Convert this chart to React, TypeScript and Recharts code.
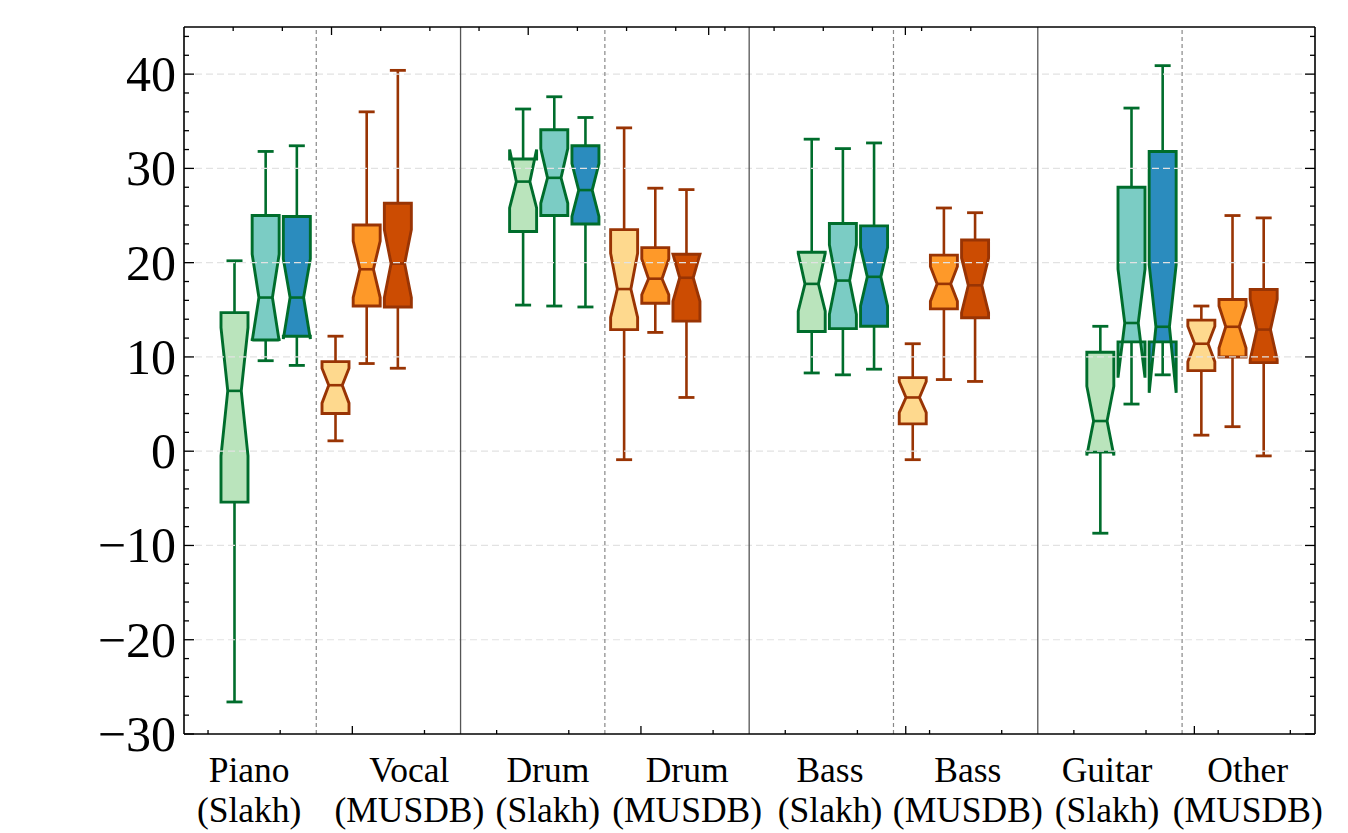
import React from 'react';
import { ComposedChart, Bar, XAxis, YAxis, ReferenceLine } from 'recharts';

// ---- categories ----
const instruments = ['Piano', 'Vocal', 'Drum', 'Drum', 'Bass', 'Bass', 'Guitar', 'Other'];
const datasets = ['(Slakh)', '(MUSDB)', '(Slakh)', '(MUSDB)', '(Slakh)', '(MUSDB)', '(Slakh)', '(MUSDB)'];
// x positions (axis units) of each group centre and of its two-line label
const groupCenters = [1.8, 3.2, 5.8, 7.2, 9.8, 11.2, 13.8, 15.2];
const labelCenters = [1.57, 3.79, 5.71, 7.64, 9.62, 11.53, 13.46, 15.41];

// ---- box statistics: [group][model] ----
const whiskerLow = [[-26.6, 9.6, 9.1], [1.1, 9.3, 8.8], [15.5, 15.4, 15.3], [-0.9, 12.6, 5.7], [8.3, 8.1, 8.7], [-0.9, 7.6, 7.4], [-8.7, 5.0, 8.1], [1.7, 2.6, -0.5]];
const q1 = [[-5.4, 11.8, 12.2], [4.0, 15.4, 15.3], [23.3, 25.0, 24.1], [12.9, 15.7, 13.8], [12.7, 13.0, 13.25], [2.9, 15.1, 14.15], [-0.1, 11.6, 11.6], [8.55, 10.0, 9.4]];
const notchLow = [[-0.5, 11.7, 11.9], [5.1, 16.3, 16.3], [25.8, 26.3, 24.9], [14.2, 16.6, 15.9], [14.85, 14.5, 15.4], [4.1, 15.9, 14.7], [-0.45, 7.8, 6.2], [9.5, 10.95, 9.7]];
const median = [[6.4, 16.3, 16.3], [7.0, 19.3, 19.9], [28.6, 29.0, 27.7], [17.2, 18.3, 18.4], [17.75, 18.1, 18.5], [5.7, 17.75, 17.6], [3.2, 13.6, 13.2], [11.4, 13.2, 12.9]];
const notchHigh = [[13.1, 20.9, 20.4], [8.8, 22.3, 23.5], [32.0, 32.1, 30.5], [21.0, 20.4, 20.9], [21.0, 21.9, 21.6], [7.4, 19.6, 20.5], [6.9, 19.3, 19.8], [13.25, 15.4, 16.1]];
const q3 = [[14.7, 25.0, 24.9], [9.5, 24.0, 26.3], [31.0, 34.1, 32.4], [23.5, 21.6, 20.9], [21.1, 24.15, 23.9], [7.8, 20.8, 22.4], [10.5, 28.0, 31.8], [13.9, 16.1, 17.15]];
const whiskerHigh = [[20.2, 31.8, 32.4], [12.2, 36.0, 40.4], [36.3, 37.6, 35.4], [34.3, 27.9, 27.75], [33.1, 32.1, 32.7], [11.4, 25.8, 25.3], [13.25, 36.4, 40.9], [15.4, 25.0, 24.75]];

// ---- ticks ----
const yTicks = [-30, -28, -26, -24, -22, -20, -18, -16, -14, -12, -10, -8, -6, -4, -2, 0, 2, 4, 6, 8, 10, 12, 14, 16, 18, 20, 22, 24, 26, 28, 30, 32, 34, 36, 38, 40, 42, 44];
const yMajor = [-30, -20, -10, 0, 10, 20, 30, 40];
const gridY = [-20, -10, 0, 10, 20, 30, 40];
const xMinorTicks = [1, 2, 4, 5, 6, 8, 9, 10, 11, 12, 13, 14, 15, 16];
const xMajorTicks = [3, 7, 10.67, 14.67];
const solidSeparators = [4.5, 8.5, 12.5];
const dashedSeparators = [2.5, 6.5, 10.5, 14.5];

// ---- styles ----
const slakhFills = ['#bae4bc', '#7bccc4', '#2b8cbe'];
const musdbFills = ['#fed98e', '#fe9929', '#cc4c02'];
const slakhEdge = '#006d2c';
const musdbEdge = '#993404';
const boxOffsets = [-0.432, 0, 0.432];
const FONT = '"Liberation Serif", "Times New Roman", serif';
const X_DOMAIN: [number, number] = [0.667, 16.342];
const Y_DOMAIN: [number, number] = [-30, 45];

const rows: any[] = [];
groupCenters.forEach((gc, g) => {
  for (let j = 0; j < 3; j++) {
    const slakh = g % 2 === 0;
    rows.push({
      x: gc + boxOffsets[j],
      range: [whiskerLow[g][j], whiskerHigh[g][j]],
      wLo: whiskerLow[g][j], q1: q1[g][j], nLo: notchLow[g][j], med: median[g][j],
      nHi: notchHigh[g][j], q3: q3[g][j], wHi: whiskerHigh[g][j],
      fill: slakh ? slakhFills[j] : musdbFills[j],
      edge: slakh ? slakhEdge : musdbEdge,
    });
  }
});

const BoxShape = (props: any) => {
  const { x, y, width, height, payload } = props;
  if (x == null || y == null || !payload) return <g />;
  const top = Math.min(y, y + height);
  const bot = Math.max(y, y + height);
  const lo = payload.wLo;
  const hi = payload.wHi;
  const py = (v: number) => bot + ((v - lo) / (hi - lo)) * (top - bot);
  const cx = x + width / 2;
  const w = 27;
  const L = cx - w / 2, R = cx + w / 2, NL = cx - w / 4, NR = cx + w / 4;
  const cap = 8;
  const pts = [
    [L, py(payload.q1)], [R, py(payload.q1)], [R, py(payload.nLo)], [NR, py(payload.med)],
    [R, py(payload.nHi)], [R, py(payload.q3)], [L, py(payload.q3)], [L, py(payload.nHi)],
    [NL, py(payload.med)], [L, py(payload.nLo)],
  ].map((p) => p.join(',')).join(' ');
  const e = payload.edge;
  return (
    <g>
      <line x1={cx} x2={cx} y1={py(payload.q3)} y2={py(payload.wHi)} stroke={e} strokeWidth={2.6} />
      <line x1={cx} x2={cx} y1={py(payload.q1)} y2={py(payload.wLo)} stroke={e} strokeWidth={2.6} />
      <line x1={cx - cap} x2={cx + cap} y1={py(payload.wHi)} y2={py(payload.wHi)} stroke={e} strokeWidth={2.8} />
      <line x1={cx - cap} x2={cx + cap} y1={py(payload.wLo)} y2={py(payload.wLo)} stroke={e} strokeWidth={2.8} />
      <polygon points={pts} fill={payload.fill} stroke={e} strokeWidth={2.9} strokeLinejoin="miter" />
      <line x1={NL} x2={NR} y1={py(payload.med)} y2={py(payload.med)} stroke={e} strokeWidth={2.6} />
    </g>
  );
};

const BottomTick = (p: any) => {
  const v = p.payload.value;
  const li = labelCenters.indexOf(v);
  if (li >= 0) {
    return (
      <g>
        <text x={p.x} y={p.y + 48} textAnchor="middle" fontSize={35.5} fontFamily={FONT} fill="#000">{instruments[li]}</text>
        <text x={p.x} y={p.y + 88} textAnchor="middle" fontSize={35.5} fontFamily={FONT} fill="#000">{datasets[li]}</text>
      </g>
    );
  }
  const major = xMajorTicks.indexOf(v) >= 0;
  return <line x1={p.x} x2={p.x} y1={p.y} y2={p.y - (major ? 8 : 4)} stroke="#000" strokeWidth={1.3} />;
};

const TopTick = (p: any) => {
  const major = xMajorTicks.indexOf(p.payload.value) >= 0;
  return <line x1={p.x} x2={p.x} y1={p.y} y2={p.y + (major ? 8 : 4)} stroke="#000" strokeWidth={1.3} />;
};

const fmt = (v: number) => (v < 0 ? '\u2212' + Math.abs(v) : String(v));

const LeftTick = (p: any) => {
  const v = p.payload.value;
  const major = yMajor.indexOf(v) >= 0;
  return (
    <g>
      <line x1={p.x} x2={p.x + (major ? 10 : 5)} y1={p.y} y2={p.y} stroke="#000" strokeWidth={1.3} />
      {major && (
        <text x={p.x - 8} y={p.y + 17} textAnchor="end" fontSize={50} fontFamily={FONT} fill="#000">{fmt(v)}</text>
      )}
    </g>
  );
};

const RightTick = (p: any) => {
  const major = yMajor.indexOf(p.payload.value) >= 0;
  return <line x1={p.x} x2={p.x - (major ? 10 : 5)} y1={p.y} y2={p.y} stroke="#000" strokeWidth={1.3} />;
};

const axisLine = { stroke: '#000', strokeWidth: 1.6 };

export default function App() {
  return (
    <div style={{ position: 'absolute', left: 0, top: 0, background: '#fff' }}>
      <ComposedChart width={1348} height={833} data={rows} margin={{ top: 17, right: 23, bottom: 0, left: 0 }}>
        <XAxis dataKey="x" type="number" domain={X_DOMAIN} allowDataOverflow
          ticks={[...labelCenters, ...xMinorTicks, ...xMajorTicks]} interval={0}
          tickLine={false} tickSize={0} tickMargin={0} tick={<BottomTick />} axisLine={axisLine} height={99} />
        <XAxis xAxisId="top" orientation="top" type="number" domain={X_DOMAIN} allowDataOverflow
          ticks={[...xMinorTicks, ...xMajorTicks]} interval={0}
          tickLine={false} tickSize={0} tickMargin={0} tick={<TopTick />} axisLine={axisLine} height={10} />
        <YAxis type="number" domain={Y_DOMAIN} allowDataOverflow ticks={yTicks} interval={0}
          tickLine={false} tickSize={0} tickMargin={0} tick={<LeftTick />} axisLine={axisLine} width={184} />
        <YAxis yAxisId="right" orientation="right" type="number" domain={Y_DOMAIN} allowDataOverflow ticks={yTicks} interval={0}
          tickLine={false} tickSize={0} tickMargin={0} tick={<RightTick />} axisLine={axisLine} width={10} />
        {gridY.map((v) => (
          <ReferenceLine key={'g' + v} y={v} stroke="#e2e2e2" strokeWidth={1.2} strokeDasharray="7 4" />
        ))}
        {solidSeparators.map((v) => (
          <ReferenceLine key={'s' + v} x={v} stroke="#555" strokeWidth={1.3} />
        ))}
        {dashedSeparators.map((v) => (
          <ReferenceLine key={'d' + v} x={v} stroke="#888" strokeWidth={1.2} strokeDasharray="4 3" />
        ))}
        <Bar dataKey="range" barSize={27} shape={<BoxShape />} isAnimationActive={false} />
      </ComposedChart>
    </div>
  );
}
